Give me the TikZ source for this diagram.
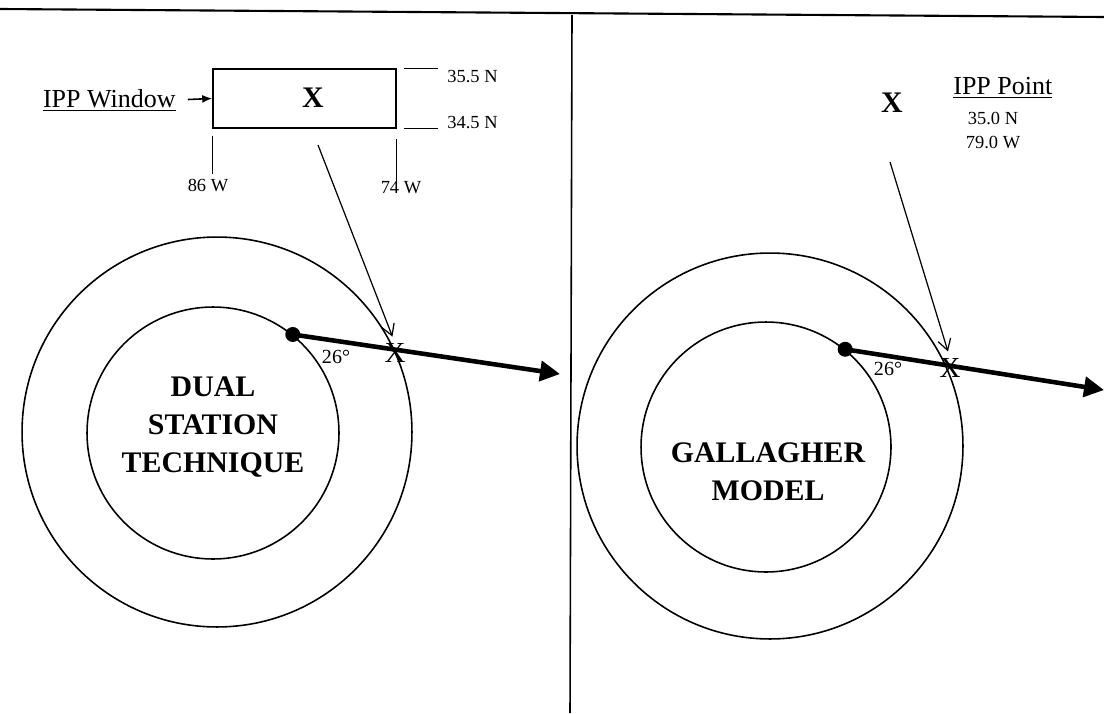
\documentclass[tikz,border=0pt]{standalone}
\usepackage{fontspec}
\setmainfont{Liberation Serif}
\usetikzlibrary{arrows.meta, positioning}

\begin{document}
\begin{tikzpicture}[x=0.02cm, y=-0.02cm,
    ring/.style={circle, draw, line width=0.9pt, minimum size=#1, inner sep=0pt},
    dot/.style={circle, fill, minimum size=0.3cm, inner sep=0pt},
    title/.style={font=\fontsize{17}{21.6}\selectfont\bfseries, align=center},
    xmark/.style={font=\fontsize{16.5}{18}\selectfont, inner sep=0pt},
    boldx/.style={font=\fontsize{17}{20}\selectfont\bfseries, inner sep=0pt},
    deg/.style={font=\fontsize{11.4}{13}\selectfont, inner sep=0pt},
    coord/.style={font=\fontsize{10.5}{12}\selectfont, inner sep=0pt},
    heading/.style={font=\fontsize{14.8}{17}\selectfont, inner sep=0pt},
    ray/.style={-{Triangle[length=0.4cm,width=0.4cm]}, line width=2.6pt},
    pointer/.style={-{Straight Barb[length=0.22cm,width=0.26cm]}, line width=0.7pt},
    tick/.style={line width=0.8pt}
  ]
    \useasboundingbox (0,0) rectangle (1104,713);

    % frame
    \coordinate (tl) at (0,9);
    \coordinate (tr) at (1104,17);
    \coordinate (divTop) at (572,15);
    \coordinate (divBot) at (570,713);
    \draw[line width=1.2pt] (tl) -- (tr);
    \draw[line width=0.9pt] (divTop) -- (divBot);

    % left panel
    \node[draw, line width=0.9pt, minimum width=3.66cm, minimum height=1.18cm,
      inner sep=0pt] (win) at (304.5,98.5) {};
    \node[boldx] (winX) at (313,98) {X};
    \node[heading, anchor=east] (ippw) at (176,100) {\underline{IPP Window}};
    \draw[-{Latex[length=0.2cm,width=0.16cm]}, line width=0.9pt,
      shorten <=0.24cm] (ippw.east) -- (win.west);

    \draw[tick] ([xshift=0.14cm]win.north east) -- ++(34,0);
    \draw[tick] ([xshift=0.14cm]win.south east) -- ++(34,0);
    \draw[tick] ([yshift=-0.14cm]win.south west) -- ++(0,38);
    \draw[tick] ([yshift=-0.2cm]win.south east) -- ++(0,48);
    \node[coord, anchor=west] (latN) at (447,77) {35.5 N};
    \node[coord, anchor=west] (latS) at (447,123) {34.5 N};
    \node[coord] (lonW) at (208,186) {86 W};
    \node[coord] (lonE) at (401,188) {74 W};

    \node[ring=7.8cm] (outerL) at (217,432) {};
    \node[ring=5.04cm] (innerL) at (213,433) {};
    \node[title] (nameL) at (213,427) {DUAL\\STATION\\TECHNIQUE};
    \node[dot] (dotL) at (innerL.51) {};
    \node[xmark] (xL) at (395,353) {X};
    \coordinate (tipL) at (560,374);
    \draw[ray] (dotL.center) -- (tipL);
    \node[deg] (degL) at (336,357) {26°};
    \coordinate (srcL) at (318,145);
    \draw[pointer, shorten >=0.14cm] (srcL) -- (xL.north);

    % right panel
    \node[boldx] (ippX) at (892,103) {X};
    \node[heading, anchor=west] (ippp) at (953,88) {\underline{IPP Point}};
    \node[coord] (ippLat) at (993,118) {35.0 N};
    \node[coord] (ippLon) at (993,143) {79.0 W};

    \node[ring=7.72cm] (outerR) at (770,446) {};
    \node[ring=5.0cm] (innerR) at (766,447) {};
    \node[title] (nameR) at (768,472) {GALLAGHER\\MODEL};
    \node[dot] (dotR) at (innerR.51) {};
    \node[xmark] (xR) at (950,368) {X};
    \coordinate (tipR) at (1104,390);
    \draw[ray] (dotR.center) -- (tipR);
    \node[deg] (degR) at (888,369) {26°};
    \coordinate (srcR) at (890,162);
    \draw[pointer, shorten >=0.14cm] (srcR) -- (xR.north);
  \end{tikzpicture}
\end{document}
